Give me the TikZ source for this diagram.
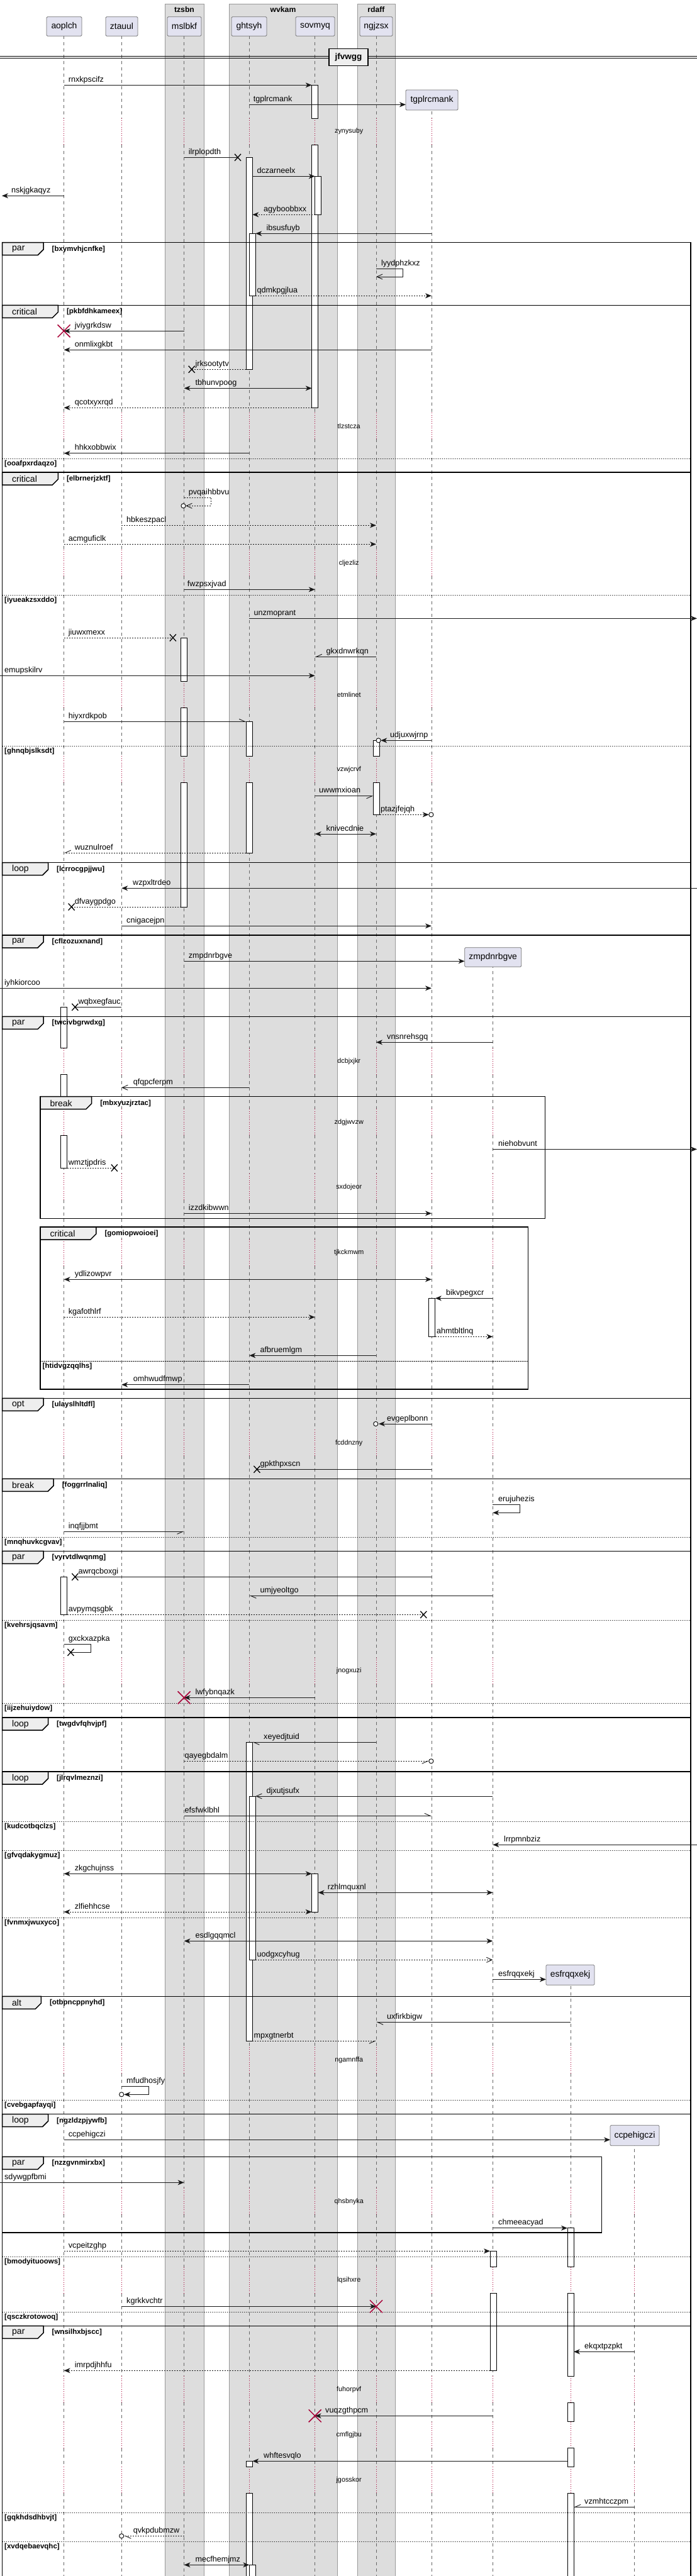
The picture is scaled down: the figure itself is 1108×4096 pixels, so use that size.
\documentclass[tikz,border=0pt]{standalone}
\usepackage{fontspec}
\setmainfont{Liberation Sans}
\usetikzlibrary{arrows.meta}
\definecolor{partfill}{HTML}{E2E2F0}
\definecolor{boxfill}{HTML}{DDDDDD}
\definecolor{tabfill}{HTML}{EEEEEE}
\definecolor{delayred}{HTML}{A80036}
\newcommand\fmsg{\fontsize{12.6}{14}\selectfont}
\newcommand\fdelay{\fontsize{10.8}{12}\selectfont}
\newcommand\fpart{\fontsize{13.9}{16}\selectfont}
\newcommand\ftab{\fontsize{14}{16}\selectfont}
\newcommand\fcond{\bfseries\fontsize{11.5}{13}\selectfont}
\newcommand\fboxt{\bfseries\fontsize{12.2}{14}\selectfont}
\newcommand\fdiv{\bfseries\fontsize{13.5}{15}\selectfont}
\def\seglist{57/188,230/656.3,698.3/874.3,916.3/1083.3,1125.3/1202.3,1244.3/1666.7,1708.7/1763.3,1805.3/1866.3,1908.3/1970.7,2012.7/2273.3,2315.3/2635.7,2677.7/3254.7,3296.7/3479.3,3521.3/3604.7,3646.7/3778.3,3820.3/3850.7,3892.7/3922.3,3964.3/4110}
\def\delaylist{188/230,656.3/698.3,874.3/916.3,1083.3/1125.3,1202.3/1244.3,1666.7/1708.7,1763.3/1805.3,1866.3/1908.3,1970.7/2012.7,2273.3/2315.3,2635.7/2677.7,3254.7/3296.7,3479.3/3521.3,3604.7/3646.7,3778.3/3820.3,3850.7/3892.7,3922.3/3964.3}
\tikzset{
 life/.style={draw=black!60, line width=0.6pt, dash pattern=on 5pt off 5pt},
 dline/.style={draw=delayred, line width=0.8pt, dash pattern=on 0.8pt off 2.6pt},
 actb/.style={draw=black, line width=0.8pt, fill=white},
 msg/.style={draw=black!90, line width=0.9pt},
 ret/.style={msg, dash pattern=on 2pt off 2pt},
 openh/.style={-{Straight Barb[length=9pt,width=8pt]}},
 hl/.style={-{Straight Barb[left,length=9pt,width=8pt]}},
 hr/.style={-{Straight Barb[right,length=9pt,width=8pt]}},
 part/.style={draw=black!55, fill=partfill, line width=0.8pt, inner xsep=2pt, font=\fpart, rounded corners=1.5pt},
 grpbox/.style={draw=black!40, fill=boxfill, line width=0.6pt},
 boxtitle/.style={font=\fboxt, inner sep=0pt},
 frm/.style={draw=black, line width=1.5pt},
 elsel/.style={draw=black, line width=0.9pt, dash pattern=on 1.5pt off 1.5pt},
 msglbl/.style={font=\fmsg, anchor=base west, inner sep=0pt},
 condlbl/.style={font=\fcond, anchor=west, inner sep=0pt},
 tablbl/.style={font=\ftab, anchor=west, inner sep=0pt},
 dlylbl/.style={font=\fdelay, inner sep=0pt},
 divbox/.style={draw=black, line width=1.5pt, fill=tabfill, minimum width=62pt, minimum height=26.6pt, font=\fdiv, inner sep=1pt}
}
\newcommand\drawlifeline[2]{\begin{scope}\clip (#1-8,#2) rectangle (#1+8,4110);
 \foreach \a/\b in \seglist {\draw[life] (#1,\a) -- (#1,\b);}
 \foreach \a/\b in \delaylist {\draw[dline] (#1,\a) -- (#1,\b);}
 \end{scope}}
\newcommand\actbar[3]{\draw[actb] (#1-5,#2) rectangle (#1+5,#3);}
\newcommand\grp[7]{%
 \draw[frm] (#1,#3) rectangle (#2,#4);
 \filldraw[frm, fill=tabfill] (#1,#3) -- (#1+#6,#3) -- (#1+#6,#3+11) -- (#1+#6-9,#3+20) -- (#1,#3+20) -- cycle;
 \node[tablbl] (k-#7) at (#1+15.5,#3+10.5) {#5};
 \node[condlbl] (g-#7) at (#1+#6+13.5,#3+10.5) {[#7]};}
\newcommand\elsesep[4]{\draw[elsel] (#1,#3) -- (#2,#3);
 \node[condlbl] (e-#4) at (#1+3.5,#3+8.5) {[#4]};}
\newcommand\ml[3]{\node[msglbl] (t-#3) at (#1,#2-5) {#3};}
\newcommand\dly[2]{\node[dlylbl] (d-#2) at (554.7,#1) {#2};}
\newcommand\xmark[2]{\draw[line width=1.3pt] (#1-5,#2-5.5) -- (#1+5,#2+5.5) (#1-5,#2+5.5) -- (#1+5,#2-5.5);}
\newcommand\dmark[2]{\draw[line width=1.5pt, draw=delayred] (#1-10,#2-10) -- (#1+10,#2+10) (#1-10,#2+10) -- (#1+10,#2-10);}
\newcommand\ringmark[2]{\draw[line width=0.9pt, fill=white] (#1,#2) circle (3.6);}
\begin{document}
\begin{tikzpicture}[x=1pt,y=-1pt, >={Stealth[length=10pt,width=8pt,inset=3pt]}]
\useasboundingbox (0,0) rectangle (1108,4096);
\fill[white] (0,0) rectangle (1108,4096);
% group boxes
\draw[grpbox] (262,6) rectangle (324,4115);
\draw[grpbox] (364,6) rectangle (536,4115);
\draw[grpbox] (568,6) rectangle (628,4115);
\node[boxtitle] (bt-tzsbn) at (293,14.7) {tzsbn};
\node[boxtitle] (bt-wvkam) at (450,14.7) {wvkam};
\node[boxtitle] (bt-rdaff) at (598,14.7) {rdaff};
% lifelines
\drawlifeline{101.6}{57}
\drawlifeline{193.2}{57}
\drawlifeline{292.6}{57}
\drawlifeline{396.3}{57}
\drawlifeline{500.7}{57}
\drawlifeline{598}{57}
\drawlifeline{686}{175}
\drawlifeline{783.4}{1537.3}
\drawlifeline{907}{3156.3}
\drawlifeline{1008.5}{3411.7}
% activation bars
\actbar{500.7}{135.3}{188} \actbar{500.7}{230}{648.3}
\actbar{505.7}{280.3}{341.3}
\actbar{396.3}{250.3}{587.3}
\actbar{401.3}{371.3}{470.3}
\actbar{292.6}{1014}{1083.3} \actbar{292.6}{1125.3}{1202.3} \actbar{292.6}{1244.3}{1442}
\actbar{396.3}{1147.3}{1202.3} \actbar{396.3}{1244.3}{1356}
\actbar{598.7}{1177.3}{1202.3} \actbar{598.7}{1244.3}{1295.3}
\actbar{101.6}{1601.3}{1666.7} \actbar{101.6}{1708.7}{1763.3} \actbar{101.6}{1805.3}{1857}
\actbar{686.8}{2064.3}{2125.3}
\actbar{101.6}{2507.3}{2567.3}
\actbar{396.3}{2770.3}{3245.3}
\actbar{401.3}{2856}{3116.3}
\actbar{500.7}{2979.3}{3040}
\actbar{907}{3542.7}{3604.7} \actbar{907}{3646.7}{3778.3} \actbar{907}{3820.3}{3850.7} \actbar{907}{3892.7}{3922.3} \actbar{907}{3964.3}{4115}
\actbar{784}{3579.3}{3604.7} \actbar{784}{3646.7}{3769.3}
\actbar{396.3}{3913.3}{3922.3} \actbar{396.3}{3964.3}{4115}
\actbar{401.3}{4078.3}{4115}
% participants
\node[part, minimum width=56pt, minimum height=30.6pt] (aoplch) at (102,42) {aoplch};
\node[part, minimum width=51pt, minimum height=30.6pt] (ztauul) at (193.5,42) {ztauul};
\node[part, minimum width=54pt, minimum height=30.6pt] (mslbkf) at (293,42) {mslbkf};
\node[part, minimum width=56pt, minimum height=30.6pt] (ghtsyh) at (396,42) {ghtsyh};
\node[part, minimum width=62pt, minimum height=30.6pt] (sovmyq) at (501,42) {sovmyq};
\node[part, minimum width=52pt, minimum height=30.6pt] (ngjzsx) at (598,42) {ngjzsx};
\node[part, minimum width=83pt, minimum height=32pt] (tgplrcmank) at (686.5,159) {tgplrcmank};
\node[part, minimum width=90pt, minimum height=30.6pt] (zmpdnrbgve) at (783.7,1522) {zmpdnrbgve};
\node[part, minimum width=77pt, minimum height=32pt] (esfrqqxekj) at (906.5,3140.3) {esfrqqxekj};
\node[part, minimum width=78pt, minimum height=32.4pt] (ccpehigczi) at (1009,3395.5) {ccpehigczi};
% divider
\draw[line width=0.9pt] (0,89.8) -- (1108,89.8) (0,92.8) -- (1108,92.8);
\node[divbox] (jfvwgg) at (554,91) {jfvwgg};
% frames
\grp{3.5}{1098}{385.7}{485.3}{par}{65.5}{bxymvhjcnfke}
\grp{3.5}{1098}{485.3}{751}{critical}{88.8}{pkbfdhkameex}
\elsesep{3.5}{1098}{729.3}{ooafpxrdaqzo}
\grp{3.5}{1098}{751}{1371.7}{critical}{88.8}{elbrnerjzktf}
\elsesep{3.5}{1098}{946.3}{iyueakzsxddo}
\elsesep{3.5}{1098}{1186.3}{ghnqbjslksdt}
\grp{3.5}{1098}{1371.7}{1487}{loop}{73}{lcrrocgpjjwu}
\grp{3.5}{1098}{1487}{1616.3}{par}{65.5}{cflzozuxnand}
\grp{3.5}{1098}{1616.3}{2223.3}{par}{65.5}{twcivbgrwdxg}
\grp{64}{866.5}{1743.7}{1937.3}{break}{81.7}{mbxyuzjrztac}
\grp{64}{839.5}{1951}{2209}{critical}{88.8}{gomiopwoioei}
\elsesep{64}{839.5}{2164.3}{htidvgzqqlhs}
\grp{3.5}{1098}{2223.3}{2351.3}{opt}{65.5}{ulayslhltdfl}
\grp{3.5}{1098}{2351.3}{2466.3}{break}{81.7}{foggrrlnaliq}
\elsesep{3.5}{1098}{2444.3}{mnqhuvkcgvav}
\grp{3.5}{1098}{2466.3}{2731}{par}{65.5}{vyrvtdlwqnmg}
\elsesep{3.5}{1098}{2576}{kvehrsjqsavm}
\elsesep{3.5}{1098}{2708.3}{iijzehuiydow}
\grp{3.5}{1098}{2731}{2817}{loop}{73}{twgdvfqhvjpf}
\grp{3.5}{1098}{2817}{3174.3}{loop}{73}{jlrqvlmeznzi}
\elsesep{3.5}{1098}{2896}{kudcotbqclzs}
\elsesep{3.5}{1098}{2942}{gfvqdakygmuz}
\elsesep{3.5}{1098}{3049}{fvnmxjwuxyco}
\grp{3.5}{1098}{3174.3}{3361.7}{alt}{61.8}{otbpncppnyhd}
\elsesep{3.5}{1098}{3339.3}{cvebgapfayqi}
\grp{3.5}{1098}{3361.7}{3698.3}{loop}{73}{ngzldzpjywfb}
\elsesep{3.5}{1098}{3588.3}{bmodyituoows}
\elsesep{3.5}{1098}{3676.3}{qsczkrotowoq}
\grp{3.5}{956.7}{3429.3}{3550}{par}{65.5}{nzzgvnmirxbx}
\grp{3.5}{1098}{3698.3}{4120}{par}{65.5}{wnsilhxbjscc}
\elsesep{3.5}{1098}{3995.3}{gqkhdsdhbvjt}
\elsesep{3.5}{1098}{4041.3}{xvdqebaevqhc}
% delays
\dly{209}{zynysuby}
\dly{677.3}{tlzstcza}
\dly{895.7}{cljezliz}
\dly{1104.3}{etmlinet}
\dly{1223.3}{vzwjcrvf}
\dly{1687.7}{dcbjxjkr}
\dly{1784.3}{zdgjwvzw}
\dly{1887.3}{sxdojeor}
\dly{1991.7}{tjkckmwm}
\dly{2294.3}{fcddnzny}
\dly{2656.7}{jnogxuzi}
\dly{3275.7}{ngamnffa}
\dly{3500.3}{qhsbnyka}
\dly{3625.7}{lqsihxre}
\dly{3799.3}{fuhorpvf}
\dly{3871.7}{cmflgjbu}
\dly{3943.3}{jgosskor}
% messages
\draw[msg,->] (101.6,135.3) -- (495.7,135.3); \ml{108.7}{135.3}{rnxkpscifz}
\draw[msg,->] (396.3,166.3) -- (645,166.3); \ml{402.7}{166.3}{tgplrcmank}
\draw[msg] (292.6,250.3) -- (378,250.3); \xmark{378}{250.3} \ml{299.7}{250.3}{ilrplopdth}
\draw[msg,->] (401.3,280.3) -- (500.7,280.3); \ml{408.4}{280.3}{dczarneelx}
\draw[msg,->] (101.6,311.3) -- (3,311.3); \ml{17.8}{311.3}{nskjgkaqyz}
\draw[ret,->] (500.7,341.3) -- (401.3,341.3); \ml{419}{341.3}{agyboobbxx}
\draw[msg,->] (686,371.3) -- (406.3,371.3); \ml{423.3}{371.3}{ibsusfuyb}
\draw[msg,openh] (598,427.3) -- (640.6,427.3) -- (640.6,440) -- (598,440); \ml{605.8}{427.3}{lyydphzkxz}
\draw[ret,->] (406.3,470.3) -- (686,470.3); \ml{408.4}{470.3}{qdmkpgjlua}
\draw[msg,->] (292.6,526.3) -- (101.6,526.3); \dmark{101.6}{526.3} \ml{118.6}{526.3}{jviygrkdsw}
\draw[msg,->] (686,556.3) -- (101.6,556.3); \ml{118.6}{556.3}{onmlixgkbt}
\draw[ret] (391.3,587.3) -- (304.7,587.3); \xmark{304.7}{587.3} \ml{310.4}{587.3}{jrksootytv}
\draw[msg,<->] (292.6,617.3) -- (495.7,617.3); \ml{310.4}{617.3}{tbhunvpoog}
\draw[ret,->] (495.7,648.3) -- (101.6,648.3); \ml{118.6}{648.3}{qcotxyxrqd}
\draw[msg,->] (396.3,720.7) -- (101.6,720.7); \ml{118.6}{720.7}{hhkxobbwix}
\draw[ret,openh] (292.6,791) -- (335.2,791) -- (335.2,804.3) -- (295.3,804.3); \ringmark{291.5}{804.3} \ml{299.7}{791}{pvqaihbbvu}
\draw[ret,->] (193.2,835.3) -- (598,835.3); \ml{201}{835.3}{hbkeszpacl}
\draw[ret,->] (101.6,865.3) -- (598,865.3); \ml{108.7}{865.3}{acmguficlk}
\draw[msg,->] (292.6,937.3) -- (500.7,937.3); \ml{297.7}{937.3}{fwzpsxjvad}
\draw[msg,->] (396.3,983.3) -- (1108,983.3); \ml{403.4}{983.3}{unzmoprant}
\draw[ret] (101.6,1014) -- (274.9,1014); \xmark{274.9}{1014} \ml{108.7}{1014}{jiuwxmexx}
\draw[msg,hr] (598,1044.3) -- (500.7,1044.3); \ml{518.5}{1044.3}{gkxdnwrkqn}
\draw[msg,->] (0,1074.3) -- (500.7,1074.3); \ml{7}{1074.3}{emupskilrv}
\draw[msg,hl] (101.6,1147.3) -- (391.3,1147.3); \ml{108.7}{1147.3}{hiyxrdkpob}
\draw[msg,->] (686,1177.3) -- (605.2,1177.3); \ringmark{601.6}{1177.3} \ml{620}{1177.3}{udjuxwjrnp}
\draw[msg,hr] (500.7,1265.7) -- (593.7,1265.7); \ml{507}{1265.7}{uwwmxioan}
\draw[ret,->] (603.7,1295.3) -- (681.8,1295.3); \ringmark{685.4}{1295.3} \ml{605}{1295.3}{ptazjfejqh}
\draw[msg,<->] (500.7,1326) -- (598,1326); \ml{518.5}{1326}{knivecdnie}
\draw[ret,hr] (391.3,1356) -- (101.6,1356); \ml{118.6}{1356}{wuznulroef}
\draw[msg,->] (1108,1412.3) -- (193.2,1412.3); \ml{211}{1412.3}{wzpxltrdeo}
\draw[ret] (287.6,1442) -- (113.6,1442); \xmark{113.6}{1442} \ml{118.6}{1442}{dfvaygpdgo}
\draw[msg,->] (193.2,1472.3) -- (686,1472.3); \ml{201}{1472.3}{cnigacejpn}
\draw[msg,->] (292.6,1528.3) -- (738.6,1528.3); \ml{299.7}{1528.3}{zmpdnrbgve}
\draw[msg,->] (0,1571.3) -- (686,1571.3); \ml{7}{1571.3}{iyhkiorcoo}
\draw[msg] (193.2,1601.3) -- (119.3,1601.3); \xmark{119.3}{1601.3} \ml{124.3}{1601.3}{wqbxegfauc}
\draw[msg,->] (783.4,1657.3) -- (598,1657.3); \ml{615}{1657.3}{vnsnrehsgq}
\draw[msg,openh] (396.3,1729.3) -- (193.2,1729.3); \ml{211.6}{1729.3}{qfqpcferpm}
\draw[msg,->] (783.4,1827.3) -- (1108,1827.3); \ml{792}{1827.3}{niehobvunt}
\draw[ret] (106.6,1857) -- (181.8,1857); \xmark{181.8}{1857} \ml{108.7}{1857}{wmztjpdris}
\draw[msg,->] (292.6,1929.3) -- (686,1929.3); \ml{299.7}{1929.3}{izzdkibwwn}
\draw[msg,<->] (101.6,2034.3) -- (686,2034.3); \ml{118.6}{2034.3}{ydlizowpvr}
\draw[msg,->] (783.4,2064.3) -- (691.8,2064.3); \ml{708.8}{2064.3}{bikvpegxcr}
\draw[ret,->] (101.6,2094.3) -- (500.7,2094.3); \ml{108.7}{2094.3}{kgafothlrf}
\draw[ret,->] (691.8,2125.3) -- (783.4,2125.3); \ml{694}{2125.3}{ahmtbltlnq}
\draw[msg,->] (598,2155.3) -- (396.3,2155.3); \ml{413.4}{2155.3}{afbruemlgm}
\draw[msg,->] (396.3,2201.7) -- (193.2,2201.7); \ml{211.6}{2201.7}{omhwudfmwp}
\draw[msg,->] (686,2264) -- (602,2264); \ringmark{597.3}{2264} \ml{615}{2264}{evgeplbonn}
\draw[msg] (686,2336.3) -- (408.4,2336.3); \xmark{408.4}{2336.3} \ml{413.4}{2336.3}{gpkthpxscn}
\draw[msg,->] (783.4,2392.3) -- (826.7,2392.3) -- (826.7,2405.3) -- (783.4,2405.3); \ml{792}{2392.3}{erujuhezis}
\draw[msg,hr] (101.6,2435.3) -- (292.6,2435.3); \ml{108.7}{2435.3}{inqfjjbmt}
\draw[msg] (686,2507.3) -- (119.3,2507.3); \xmark{119.3}{2507.3} \ml{124.3}{2507.3}{awrqcboxgi}
\draw[msg,hl] (783.4,2537.3) -- (396.3,2537.3); \ml{413.4}{2537.3}{umjyeoltgo}
\draw[ret] (106.6,2567.3) -- (673.3,2567.3); \xmark{673.3}{2567.3} \ml{108.7}{2567.3}{avpymqsgbk}
\draw[msg] (101.6,2614.7) -- (144.2,2614.7) -- (144.2,2627.3) -- (112.4,2627.3); \xmark{112.4}{2627.3} \ml{108.7}{2614.7}{gxckxazpka}
\draw[msg,->] (500.7,2699.3) -- (292.6,2699.3); \dmark{292.6}{2699.3} \ml{310.4}{2699.3}{lwfybnqazk}
\draw[msg,hl] (598,2770.3) -- (401.3,2770.3); \ml{419}{2770.3}{xeyedjtuid}
\draw[ret,hr] (292.6,2800.3) -- (681.8,2800.3); \ringmark{685.4}{2800.3} \ml{293.5}{2800.3}{qayegbdalm}
\draw[msg,openh] (783.4,2856) -- (406.3,2856); \ml{423.3}{2856}{djxutjsufx}
\draw[msg,hl] (292.6,2887.3) -- (686,2887.3); \ml{293.5}{2887.3}{efsfwklbhl}
\draw[msg,->] (1108,2933.3) -- (783.4,2933.3); \ml{801}{2933.3}{lrrpmnbziz}
\draw[msg,<->] (101.6,2979.3) -- (495.7,2979.3); \ml{118.6}{2979.3}{zkgchujnss}
\draw[msg,<->] (505.7,3009.3) -- (783.4,3009.3); \ml{520.6}{3009.3}{rzhlmquxnl}
\draw[ret,<->] (495.7,3040) -- (101.6,3040); \ml{118.6}{3040}{zlfiehhcse}
\draw[msg,<->] (292.6,3086.3) -- (783.4,3086.3); \ml{310.4}{3086.3}{esdlgqqmcl}
\draw[ret,openh] (406.3,3116.3) -- (783.4,3116.3); \ml{408.4}{3116.3}{uodgxcyhug}
\draw[msg,->] (783.4,3147.3) -- (868,3147.3); \ml{792}{3147.3}{esfrqqxekj}
\draw[msg,hl] (907,3215.3) -- (598,3215.3); \ml{615}{3215.3}{uxfirkbigw}
\draw[ret,hr] (401.3,3245.3) -- (598,3245.3); \ml{403.4}{3245.3}{mpxgtnerbt}
\draw[msg,->] (193.2,3317.3) -- (236.5,3317.3) -- (236.5,3330.3) -- (197.2,3330.3); \ringmark{193.2}{3330.3} \ml{201}{3317.3}{mfudhosjfy}
\draw[msg,->] (101.6,3402.3) -- (970,3402.3); \ml{108.7}{3402.3}{ccpehigczi}
\draw[msg,->] (0,3470.3) -- (292.6,3470.3); \ml{7}{3470.3}{sdywgpfbmi}
\draw[msg,->] (783.4,3542.7) -- (902,3542.7); \ml{792}{3542.7}{chmeeacyad}
\draw[ret,->] (101.6,3579.3) -- (779,3579.3); \ml{108.7}{3579.3}{vcpeitzghp}
\draw[msg,->] (193.2,3667.3) -- (598,3667.3); \dmark{598}{3667.3} \ml{201}{3667.3}{kgrkkvchtr}
\draw[msg,->] (1008.5,3739.3) -- (912,3739.3); \ml{929}{3739.3}{ekqxtpzpkt}
\draw[ret,->] (779,3769.3) -- (101.6,3769.3); \ml{118.6}{3769.3}{imrpdjhhfu}
\draw[msg,->] (783.4,3841.3) -- (500.7,3841.3); \dmark{500.7}{3841.3} \ml{517}{3841.3}{vuqzgthpcm}
\draw[msg,->] (902,3913.3) -- (401.3,3913.3); \ml{419}{3913.3}{whftesvqlo}
\draw[msg,hr] (1008.5,3986.3) -- (912,3986.3); \ml{929}{3986.3}{vzmhtcczpm}
\draw[ret,hl] (292.6,4032.3) -- (197.2,4032.3); \ringmark{193.2}{4032.3} \ml{211.6}{4032.3}{qvkpdubmzw}
\draw[msg,<->] (292.6,4078.3) -- (396.3,4078.3); \ml{310.4}{4078.3}{mecfhemjmz}
\end{tikzpicture}
\end{document}
